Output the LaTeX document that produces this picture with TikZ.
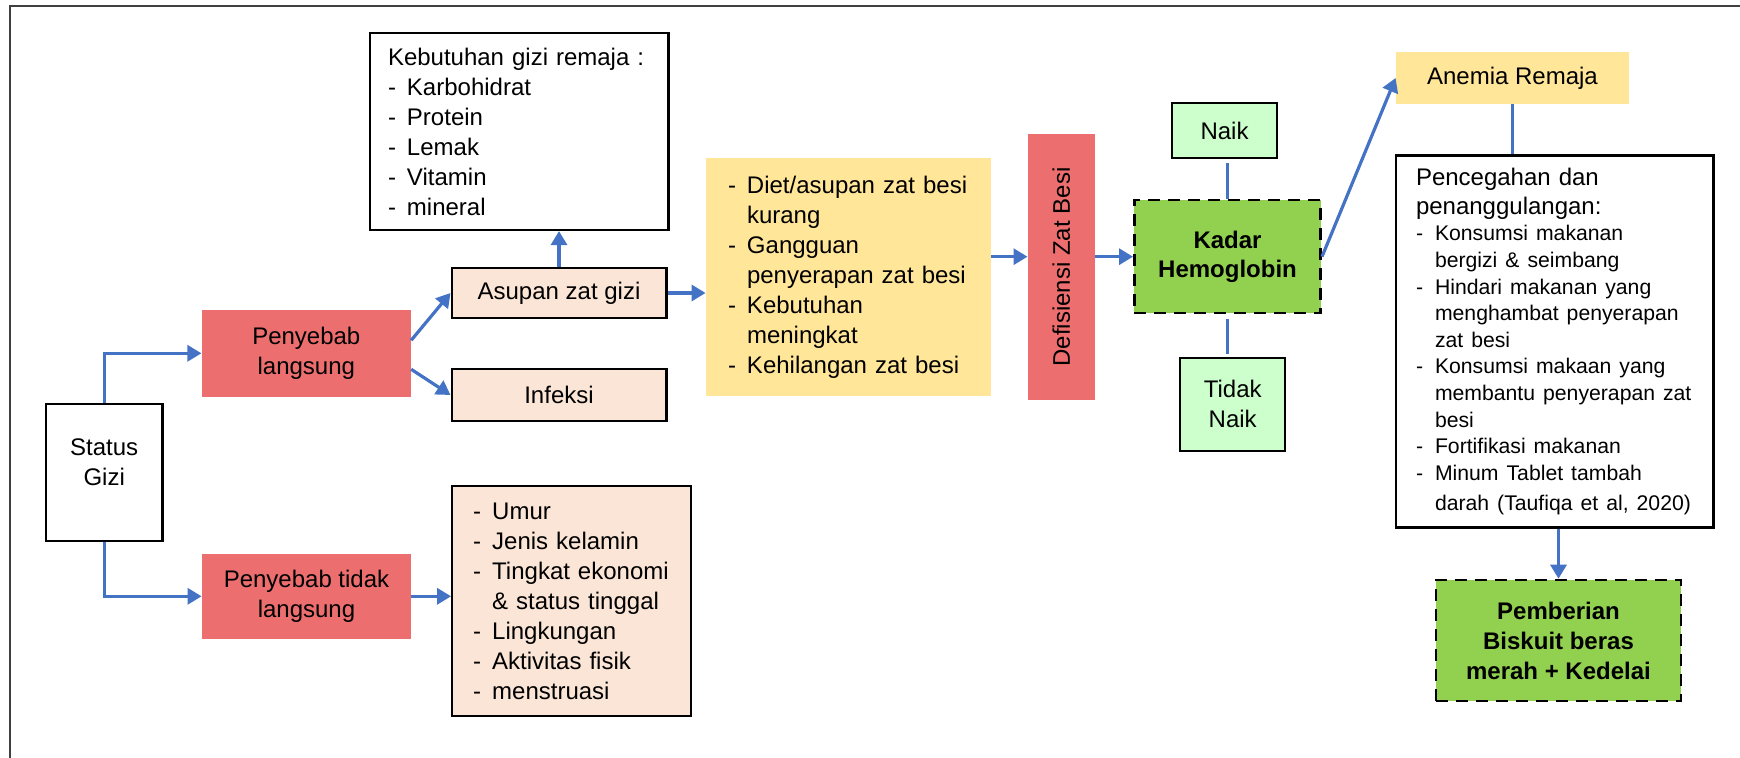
\documentclass[tikz,border=0pt]{standalone}
\usepackage{fontspec}
\setmainfont{Liberation Sans}
\usetikzlibrary{arrows.meta, calc, positioning}

\definecolor{boxred}{RGB}{236,110,110}
\definecolor{boxpeach}{RGB}{251,229,214}
\definecolor{boxyellow}{RGB}{255,230,153}
\definecolor{boxmint}{RGB}{204,255,204}
\definecolor{boxgreen}{RGB}{146,208,80}
\definecolor{linkblue}{RGB}{68,114,196}

\newcommand{\dashitem}[1]{\makebox[9.5pt][l]{-}#1}
\newcommand{\dashcont}[1]{\hspace*{9.5pt}#1}

\begin{document}
\begin{tikzpicture}[x=0.5pt,y=-0.5pt,font=\fontsize{12}{15}\selectfont,
        whitebox/.style={draw,line width=1.1pt,fill=white},
        redbox/.style={fill=boxred},
        peachbox/.style={draw,line width=1.1pt,fill=boxpeach},
        yellowbox/.style={fill=boxyellow},
        mintbox/.style={draw,line width=1.1pt,fill=boxmint,align=center},
        greenbox/.style={draw,line width=1.3pt,dash pattern=on 6pt off 4pt,
            fill=boxgreen,align=center},
        link/.style={draw=linkblue,line width=1.6pt,
            -{Triangle[length=7pt,width=8pt]}},
        joinline/.style={draw=linkblue,line width=1.6pt}]
        \useasboundingbox (0,0) rectangle (1740,758);
        \begin{scope}
            \clip (0,0) rectangle (1740,758);
            \draw [line width=1pt,black!75] (9.7,780) -- (9.7,5.7) -- (1760,5.7);
        \end{scope}
        \draw node [whitebox,minimum width=58.3pt,minimum height=68.3pt,
            align=center] (SG) at (104.2,472.4) {Status\\Gizi\\[-5pt]\mbox{}};
        \draw node [redbox,minimum width=104.5pt,minimum height=43.3pt,
            align=center] (PL) at (306.3,353.3) {Penyebab\\langsung};
        \draw node [redbox,minimum width=104.5pt,minimum height=42.3pt,
            align=center] (PTL) at (306.5,596.3) {Penyebab tidak\\langsung};
        \draw node [peachbox,minimum width=107.4pt,minimum height=25.3pt]
            (AZ) at (559,293) {Asupan zat gizi};
        \draw node [peachbox,minimum width=107.4pt,minimum height=25.7pt]
            (IF) at (559,395) {Infeksi};
        \draw node [whitebox,text width=131pt,inner xsep=9.2pt,
            minimum height=98.3pt,align=left] (KG) at (519,131.7)
            {\mbox{Kebutuhan gizi remaja :}\\\dashitem{Karbohidrat}\\
             \dashitem{Protein}\\\dashitem{Lemak}\\\dashitem{Vitamin}\\
             \dashitem{mineral}};
        \draw node [peachbox,text width=98.4pt,inner xsep=10.5pt,
            minimum height=115pt,align=left] (FK) at (571.6,601)
            {\dashitem{Umur}\\\dashitem{Jenis kelamin}\\
             \dashitem{Tingkat ekonomi}\\\dashcont{\& status tinggal}\\
             \dashitem{Lingkungan}\\\dashitem{Aktivitas fisik}\\
             \dashitem{menstruasi}};
        \draw node [yellowbox,text width=120.5pt,inner xsep=11pt,
            minimum height=119pt,align=left] (DA) at (848.5,277)
            {\dashitem{Diet/asupan zat besi}\\\dashcont{kurang}\\
             \dashitem{Gangguan}\\\dashcont{penyerapan zat besi}\\
             \dashitem{Kebutuhan}\\\dashcont{meningkat}\\
             \dashitem{Kehilangan zat besi}};
        \draw node [redbox,rotate=90,minimum width=133pt,minimum height=33.5pt]
            (DZ) at (1061.4,267) {Defisiensi Zat Besi};
        \draw node [greenbox,minimum width=93.2pt,minimum height=56.5pt,
            font=\fontsize{12}{14.3}\selectfont\bfseries]
            (KH) at (1227.5,256.7) {Kadar\\Hemoglobin};
        \draw node [mintbox,minimum width=52.8pt,minimum height=27.2pt]
            (NK) at (1224.5,130.5) {Naik};
        \draw node [mintbox,minimum width=52.5pt,minimum height=46.5pt]
            (TN) at (1232.7,404.2) {Tidak\\Naik};
        \draw node [yellowbox,minimum width=116.5pt,minimum height=26pt]
            (AR) at (1512.5,78) {Anemia Remaja};
        \draw node [whitebox,text width=138.7pt,inner xsep=10pt,
            minimum height=186pt,align=left] (PP) at (1554.7,341.5)
            {{\fontsize{12}{14.25}\selectfont Pencegahan dan\\
              penanggulangan:\par}
             \fontsize{10.6}{13.3}\selectfont
             \dashitem{Konsumsi makanan}\\\dashcont{bergizi \& seimbang}\\
             \dashitem{Hindari makanan yang}\\
             \dashcont{menghambat penyerapan}\\\dashcont{zat besi}\\
             \dashitem{Konsumsi makaan yang}\\
             \dashcont{membantu penyerapan zat}\\\dashcont{besi}\\
             \dashitem{Fortifikasi makanan}\\\dashitem{Minum Tablet tambah}\\
             \dashcont{darah (Taufiqa et al, 2020)}};
        \draw node [greenbox,minimum width=122.5pt,minimum height=60.5pt,
            font=\fontsize{12}{15}\selectfont\bfseries]
            (PB) at (1558.5,640.5) {Pemberian\\Biskuit beras\\merah + Kedelai};
        \draw [link] (SG.north) |- (PL.west);
        \draw [link] (SG.south) |- (PTL.west);
        \draw [link] ($ (PL.east) + (0,-13) $) -- (AZ.west);
        \draw [link] ($ (PL.east) + (0,16) $) -- (IF.west);
        \draw [link] (AZ.north) -- (AZ.north |- KG.south);
        \draw [link] (AZ.east) -- (AZ.east -| DA.west);
        \draw [link] (PTL.east) -- (PTL.east -| FK.west);
        \draw [link] (DA.east |- KH.west) -- (DZ.north |- KH.west);
        \draw [link] (DZ.south |- KH.west) -- (KH.west);
        \draw [joinline] (KH.north) -- ($ (KH.north |- NK.south) + (0,4) $);
        \draw [joinline] ($ (KH.south) + (0,5) $)
            -- ($ (KH.south |- TN.north) + (0,-3) $);
        \draw [link] (KH.east) -- (AR.west);
        \draw [joinline] (AR.south) -- (AR.south |- PP.north);
        \draw [link] (PB.north |- PP.south) -- (PB.north);
    \end{tikzpicture}
\end{document}
